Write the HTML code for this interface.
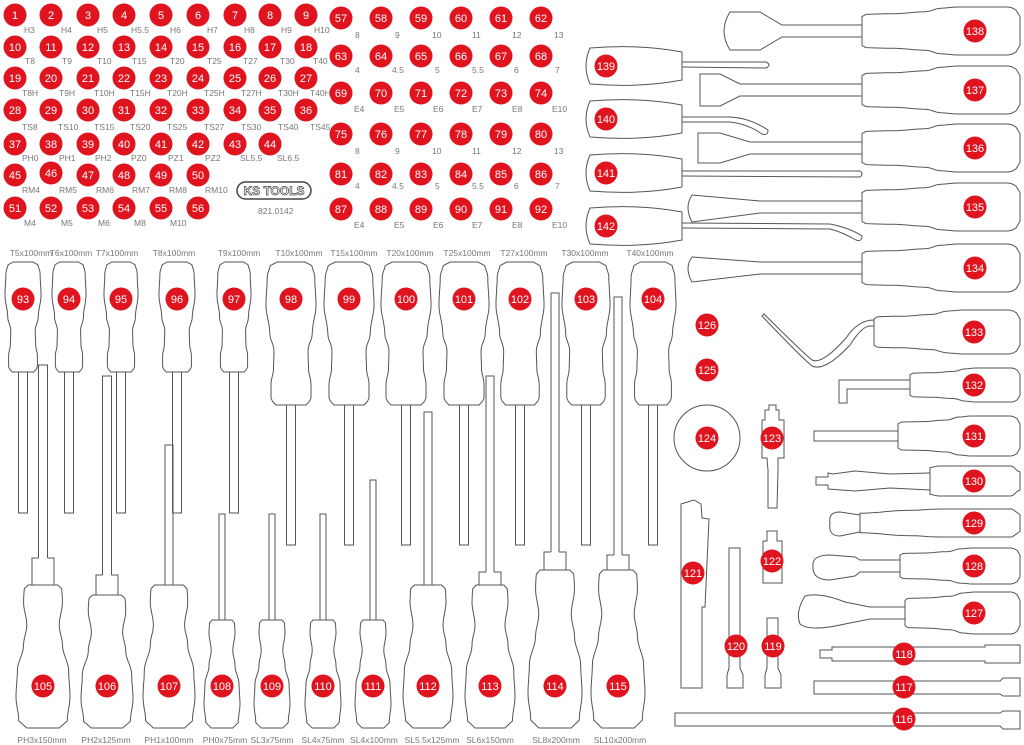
<!DOCTYPE html>
<html><head><meta charset="utf-8"><style>
html,body{margin:0;padding:0;background:#fff;}
svg{display:block;}
.l{font-family:"Liberation Sans",sans-serif;font-size:8.5px;fill:#777;}
.n{font-family:"Liberation Sans",sans-serif;font-size:11px;fill:#fff;text-anchor:middle;}
</style></head><body>
<svg id="s" width="1024" height="745" viewBox="0 0 1024 745" xmlns="http://www.w3.org/2000/svg">
<g id="shapes" fill="none" stroke="#555" stroke-width="1"></g>
<g id="dots" fill="#e0141e"></g>
<g class="l">
<text x="24" y="33">H3</text><text x="61" y="33">H4</text><text x="97" y="33">H5</text><text x="131" y="33">H5.5</text><text x="170" y="33">H6</text><text x="207" y="33">H7</text><text x="244" y="33">H8</text><text x="281" y="33">H9</text><text x="314" y="33">H10</text>
<text x="25" y="64">T8</text><text x="62" y="64">T9</text><text x="97" y="64">T10</text><text x="132" y="64">T15</text><text x="170" y="64">T20</text><text x="207" y="64">T25</text><text x="243" y="64">T27</text><text x="280" y="64">T30</text><text x="313" y="64">T40</text>
<text x="22" y="96">T8H</text><text x="59" y="96">T9H</text><text x="94" y="96">T10H</text><text x="130" y="96">T15H</text><text x="167" y="96">T20H</text><text x="204" y="96">T25H</text><text x="241" y="96">T27H</text><text x="278" y="96">T30H</text><text x="310" y="96">T40H</text>
<text x="22" y="130">TS8</text><text x="58" y="130">TS10</text><text x="94" y="130">TS15</text><text x="130" y="130">TS20</text><text x="167" y="130">TS25</text><text x="204" y="130">TS27</text><text x="241" y="130">TS30</text><text x="278" y="130">TS40</text><text x="310" y="130">TS45</text>
<text x="22" y="161">PH0</text><text x="59" y="161">PH1</text><text x="95" y="161">PH2</text><text x="131" y="161">PZ0</text><text x="168" y="161">PZ1</text><text x="205" y="161">PZ2</text><text x="240" y="161">SL5.5</text><text x="277" y="161">SL6.5</text>
<text x="22" y="193">RM4</text><text x="59" y="193">RM5</text><text x="96" y="193">RM6</text><text x="132" y="193">RM7</text><text x="169" y="193">RM8</text><text x="205" y="193">RM10</text>
<text x="24" y="226">M4</text><text x="61" y="226">M5</text><text x="98" y="226">M6</text><text x="134" y="226">M8</text><text x="170" y="226">M10</text>
<text x="258" y="214">821.0142</text>
<text x="355" y="38">8</text><text x="395" y="38">9</text><text x="432" y="38">10</text><text x="472" y="38">11</text><text x="512" y="38">12</text><text x="554" y="38">13</text>
<text x="355" y="73">4</text><text x="392" y="73">4.5</text><text x="435" y="73">5</text><text x="472" y="73">5.5</text><text x="514" y="73">6</text><text x="555" y="73">7</text>
<text x="354" y="112">E4</text><text x="394" y="112">E5</text><text x="433" y="112">E6</text><text x="472" y="112">E7</text><text x="512" y="112">E8</text><text x="552" y="112">E10</text>
<text x="355" y="154">8</text><text x="395" y="154">9</text><text x="432" y="154">10</text><text x="472" y="154">11</text><text x="512" y="154">12</text><text x="554" y="154">13</text>
<text x="355" y="189">4</text><text x="392" y="189">4.5</text><text x="435" y="189">5</text><text x="472" y="189">5.5</text><text x="514" y="189">6</text><text x="555" y="189">7</text>
<text x="354" y="228">E4</text><text x="394" y="228">E5</text><text x="433" y="228">E6</text><text x="472" y="228">E7</text><text x="512" y="228">E8</text><text x="552" y="228">E10</text>
<g text-anchor="middle">
<text x="31" y="256">T5x100mm</text><text x="71" y="256">T6x100mm</text><text x="117" y="256">T7x100mm</text><text x="174" y="256">T8x100mm</text><text x="239" y="256">T9x100mm</text><text x="299" y="256">T10x100mm</text><text x="354" y="256">T15x100mm</text><text x="410" y="256">T20x100mm</text><text x="467" y="256">T25x100mm</text><text x="524" y="256">T27x100mm</text><text x="585" y="256">T30x100mm</text><text x="650" y="256">T40x100mm</text>
<text x="42" y="743">PH3x150mm</text><text x="106" y="743">PH2x125mm</text><text x="169" y="743">PH1x100mm</text><text x="225" y="743">PH0x75mm</text><text x="272" y="743">SL3x75mm</text><text x="323" y="743">SL4x75mm</text><text x="374" y="743">SL4x100mm</text><text x="432" y="743">SL5.5x125mm</text><text x="490" y="743">SL6x150mm</text><text x="556" y="743">SL8x200mm</text><text x="620" y="743">SL10x200mm</text>
</g>
</g>
<g>
<rect x="237" y="182" width="74" height="17" rx="8.5" fill="none" stroke="#444" stroke-width="1.5"/>
<text x="274" y="195" font-family="Liberation Sans,sans-serif" font-size="12" font-weight="bold" fill="none" stroke="#444" stroke-width="0.7" text-anchor="middle">KS TOOLS</text>
</g>
<g id="nums"></g>
</svg>
<script>
var NS="http://www.w3.org/2000/svg";
var S=document.getElementById('shapes'),D=document.getElementById('dots'),N=document.getElementById('nums');
function P(d){var p=document.createElementNS(NS,'path');p.setAttribute('d',d);S.appendChild(p);}
function dot(x,y,n){var c=document.createElementNS(NS,'circle');c.setAttribute('cx',x);c.setAttribute('cy',y);c.setAttribute('r',11.5);D.appendChild(c);
var t=document.createElementNS(NS,'text');t.setAttribute('x',x);t.setAttribute('y',y+4);t.setAttribute('class','n');t.textContent=n;N.appendChild(t);}
function interp(prof,t){for(var i=0;i<prof.length-1;i++){var a=prof[i],b=prof[i+1];if(t>=a[0]&&t<=b[0]){var u=(t-a[0])/(b[0]-a[0]);u=(1-Math.cos(u*Math.PI))/2;return a[1]+(b[1]-a[1])*u;}}return prof[prof.length-1][1];}
function vh(cx,y0,y1,w,prof){var L=[],R=[],n=40;for(var i=0;i<=n;i++){var t=i/n,y=y0+(y1-y0)*t,ww=w*interp(prof,t);L.push([cx-ww,y]);R.push([cx+ww,y]);}
var d='M'+L.map(function(p){return p[0].toFixed(1)+','+p[1].toFixed(1)}).join('L');R.reverse();d+='L'+R.map(function(p){return p[0].toFixed(1)+','+p[1].toFixed(1)}).join('L')+'Z';P(d);}
function hh(cy,x0,x1,h,prof){var T=[],B=[],n=40;for(var i=0;i<=n;i++){var t=i/n,x=x0+(x1-x0)*t,hh=h*interp(prof,t);T.push([x,cy-hh]);B.push([x,cy+hh]);}
var d='M'+T.map(function(p){return p[0].toFixed(1)+','+p[1].toFixed(1)}).join('L');B.reverse();d+='L'+B.map(function(p){return p[0].toFixed(1)+','+p[1].toFixed(1)}).join('L')+'Z';P(d);}
var topProf=[[0,0.55],[0.03,0.85],[0.1,0.95],[0.3,1],[0.5,0.85],[0.62,0.68],[0.75,0.7],[0.85,0.8],[0.96,0.8],[1,0.6]];
var botProf=[[0,0.55],[0.03,0.7],[0.12,0.72],[0.28,0.6],[0.42,0.72],[0.6,0.95],[0.78,1],[0.95,0.9],[1,0.6]];
var hProf=[[0,0.6],[0.03,0.7],[0.2,0.72],[0.4,0.8],[0.5,0.95],[0.6,1],[0.93,1],[0.99,0.85],[1,0.6]];
var gx=[15,51,88,124,161,198,235,270,306];
var rows=[[15,1,9],[47,10,9],[78,19,9],[110,28,9],[144,37,8],[175,45,6],[208,51,6]];
rows.forEach(function(r){for(var i=0;i<r[2];i++)dot(gx[i],r[0]+(r[0]==175&&i==1?-2:0),r[1]+i);});
var mx=[341,381,421,461,501,541],my=[18,56,93,134,174,209];
for(var r=0;r<6;r++)for(var i=0;i<6;i++)dot(mx[i],my[r],57+r*6+i);
var T=[[23,372,18],[69,372,17],[121,372,17],[177,372,18],[234,372,17],[291,405,25],[349,405,25],[406,405,25],[464,405,25],[520,405,24],[586,405,24],[653,405,23]];
T.forEach(function(h,i){var cx=h[0],bot=h[1],sb=bot==372?513:545;vh(cx,262,bot,h[2],topProf);
P('M'+(cx-4.5)+','+bot+'L'+(cx-4.5)+','+sb+'L'+(cx+4.5)+','+sb+'L'+(cx+4.5)+','+bot);dot(cx,299,93+i);});
var B=[[43,585,27,365,4.5,558],[107,595,26,376,4.5,575],[169,585,26,445,4,0],[222,620,18,514,3,0],[272,620,18,514,3,0],[323,620,18,514,3,0],[373,620,18,480,3,0],[428,585,25,412,4,0],[490,585,25,376,4,572],[555,570,27,293,4,552],[618,570,27,297,4,555]];
B.forEach(function(h,i){var cx=h[0],top=h[1],w=h[2],st=h[3],sw=h[4],col=h[5];vh(cx,top,728,w,botProf);
var sbot=col?col:top;P('M'+(cx-sw)+','+sbot+'L'+(cx-sw)+','+st+'L'+(cx+sw)+','+st+'L'+(cx+sw)+','+sbot);
if(col)P('M'+(cx-sw)+','+col+'L'+(cx-11)+','+col+'L'+(cx-11)+','+top+'M'+(cx+sw)+','+col+'L'+(cx+11)+','+col+'L'+(cx+11)+','+top);
dot(cx,686,105+i);});
[[31,138],[90,137],[148,136],[207,135],[268,134]].forEach(function(a){hh(a[0],862,1020,24,hProf);dot(975,a[0],a[1]);});
var y;
y=31;P('M862,'+(y-6)+'L782,'+(y-6)+'L760,'+(y-19)+'L730,'+(y-19)+'Q718,'+y+' 730,'+(y+19)+'L760,'+(y+19)+'L782,'+(y+6)+'L862,'+(y+6));
y=90;P('M862,'+(y-6)+'L740,'+(y-6)+'L720,'+(y-16)+'L700,'+(y-16)+'L700,'+(y+16)+'L720,'+(y+16)+'L740,'+(y+6)+'L862,'+(y+6));
y=148;P('M862,'+(y-6)+'L750,'+(y-6)+'L720,'+(y-15)+'L698,'+(y-15)+'L698,'+(y+15)+'L720,'+(y+15)+'L750,'+(y+6)+'L862,'+(y+6));
y=207;P('M862,'+(y-6)+'L760,'+(y-6)+'L692,'+(y-12)+'Q684,'+y+' 692,'+(y+15)+'L760,'+(y+6)+'L862,'+(y+6));
y=268;P('M862,'+(y-6)+'L760,'+(y-6)+'L692,'+(y-11)+'Q684,'+y+' 692,'+(y+14)+'L760,'+(y+6)+'L862,'+(y+6));
var sp=[[66,139],[119,140],[173,141],[226,142]];
sp.forEach(function(a){var y=a[0];P('M682,'+(y-14)+'Q640,'+(y-22)+' 590,'+(y-18)+'Q582,'+y+' 590,'+(y+18)+'Q640,'+(y+22)+' 682,'+(y+14)+'Z');dot(606,y,a[1]);});
P('M682,62L766,62Q772,65 766,68L682,67');
P('M682,117L730,117Q750,118 768,130Q768,136 762,134Q748,124 730,122L682,122');
P('M682,171L860,171Q864,174 860,177L682,176');
P('M682,223L830,224Q850,228 862,236Q862,242 856,240Q842,232 830,229L682,228');
dot(707,325,126);dot(707,370,125);
P('M740,438A33,33 0 1,1 674,438A33,33 0 1,1 740,438Z');dot(707,438,124);
P('M769,405L776,405L776,410L779,410L779,420L784,420L784,458L778,458L778,470L777,508L768,508L768,470L767,458L762,458L762,420L765,420L765,410L769,410Z');dot(772,438,123);
P('M681,504L694,500L701,504L702,518L709,519L705,607L702,607L702,688L681,688Z');dot(693,573,121);
P('M729,548L740,548L740,668L743,675L743,688L727,688L727,675L729,668Z');dot(736,646,120);
P('M767,618L778,618L778,668L781,675L781,688L765,688L765,675L767,668Z');dot(773,646,119);
P('M767,531L777,531L777,541L782,541L782,583L763,583L763,541L767,541Z');dot(772,561,122);
hh(332,874,1020,22,hProf);dot(974,332,133);
P('M874,326L870,326Q862,326 850,345Q825,372 812,366Q800,356 762,316L764,314Q800,350 812,360Q822,365 846,338Q858,320 874,320');
hh(385,910,1020,17,hProf);dot(974,385,132);P('M910,380L839,380L839,403L847,403L847,389L910,389');
hh(436,898,1020,20,hProf);dot(974,436,131);P('M898,431L814,431L814,441L898,441');
hh(481,930,1020,15,[[0,0.9],[0.1,1],[0.9,1],[1,0.6]]);dot(974,481,130);P('M930,473L890,474L855,471L833,474L828,473L828,477L816,477L816,485L828,485L828,489L855,491L890,488L930,490');
hh(523,860,1020,14,[[0,0.7],[0.3,0.9],[0.5,1],[0.95,1],[1,0.6]]);P('M860,515L840,512Q828,512 830,523Q828,536 840,536L860,532');dot(974,523,129);
hh(566,900,1020,18,hProf);dot(974,566,128);P('M900,560L860,560L855,557L830,555Q812,555 813,566Q812,580 830,580L855,576L860,572L900,572');
hh(613,905,1020,21,hProf);dot(974,613,127);P('M905,607L870,607L845,602Q820,592 805,596Q795,612 800,624Q810,632 845,624L870,619L905,619');
P('M820,650L832,650L832,647L985,647L985,645L1020,645L1020,663L985,663L985,661L832,661L832,658L820,658Z');dot(904,654,118);
P('M814,681L1000,681L1003,678L1020,678L1020,696L1003,696L1000,694L814,694Z');dot(904,687,117);
P('M675,713L1000,713L1003,711L1020,711L1020,729L1003,729L1000,726L675,726Z');dot(904,719,116);
</script>
</body></html>
